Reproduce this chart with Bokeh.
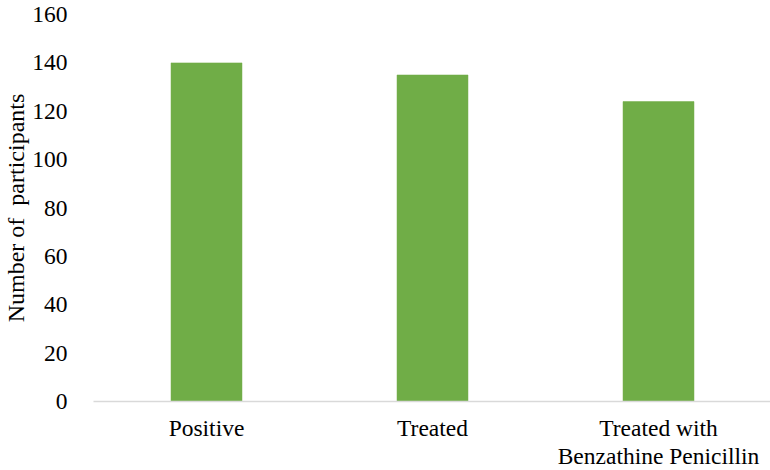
from bokeh.plotting import figure
from bokeh.embed import file_html
from bokeh.resources import INLINE
from bokeh.models import ColumnDataSource, FixedTicker, Range1d

categories = ["Positive", "Treated", "Treated with\nBenzathine Penicillin"]
counts = [140, 135, 124]
y_ticks = [0, 20, 40, 60, 80, 100, 120, 140, 160]

FONT = "Liberation Serif"

src = ColumnDataSource(data=dict(cat=categories, n=counts))

p = figure(x_range=categories, y_range=Range1d(0, 160),
           frame_width=678, frame_height=387,
           output_backend="svg", toolbar_location=None,
           min_border_left=92, min_border_right=0, min_border_top=14, min_border_bottom=69)
p.vbar(x="cat", top="n", width=0.314, source=src, fill_color="#70AD47", line_color="#70AD47", line_width=0.5)

p.outline_line_color = None
p.xgrid.grid_line_color = None
p.ygrid.grid_line_color = None

p.yaxis.ticker = FixedTicker(ticks=y_ticks)
p.yaxis.axis_line_color = None
p.yaxis.major_tick_line_color = None
p.yaxis.minor_tick_line_color = None
p.yaxis.major_label_standoff = 20
p.yaxis.major_label_text_font = FONT
p.yaxis.major_label_text_font_size = "23.5px"
p.yaxis.major_label_text_color = "#000000"
p.yaxis.axis_label = "Number of\u00a0 participants"
p.yaxis.axis_label_text_font = FONT
p.yaxis.axis_label_text_font_size = "24px"
p.yaxis.axis_label_text_font_style = "normal"
p.yaxis.axis_label_text_color = "#000000"
p.yaxis.axis_label_standoff = 0

p.xaxis.axis_line_color = "#D9D9D9"
p.xaxis.axis_line_width = 1.5
p.xaxis.major_tick_line_color = None
p.xaxis.minor_tick_line_color = None
p.xaxis.major_label_standoff = 7
p.xaxis.major_label_text_font = FONT
p.xaxis.major_label_text_font_size = "23.5px"
p.xaxis.major_label_text_line_height = 1.1
p.xaxis.major_label_text_color = "#000000"

open("out.html", "w").write(file_html(p, INLINE))
